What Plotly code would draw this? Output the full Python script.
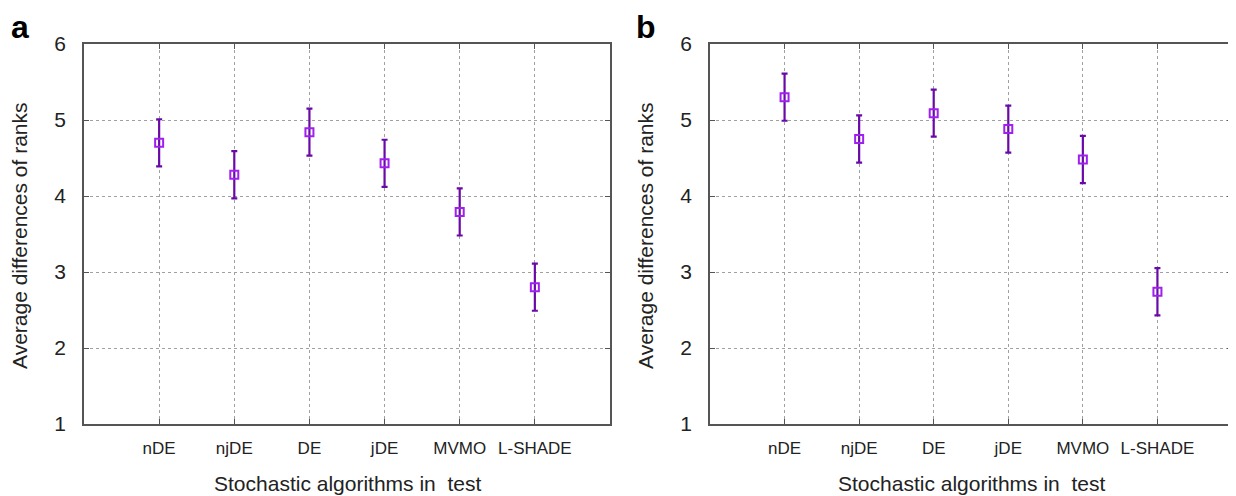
import plotly.graph_objects as go

categories = ["nDE", "njDE", "DE", "jDE", "MVMO", "L-SHADE"]
x_pos = [1, 2, 3, 4, 5, 6]
values_a = [4.70, 4.28, 4.84, 4.43, 3.79, 2.80]
err_a = [0.31, 0.31, 0.31, 0.31, 0.31, 0.31]
values_b = [5.30, 4.75, 5.09, 4.88, 4.48, 2.74]
err_b = [0.31, 0.31, 0.31, 0.31, 0.31, 0.31]
y_ticks = [1, 2, 3, 4, 5, 6]

LINE = "#6a0aa6"
MARK = "#a020f0"
FONT = "Liberation Sans, Arial, sans-serif"
TXT = "#222222"

W, H = 1236, 496
OFF = 8  # page body margin shifts the figure by this much
PT, PB = 44 - OFF, 424 - OFF
ML, MR, MT, MB = 72, 12, PT, H - PB
PW = W - ML - MR
PH = H - MT - MB

def xdom(a, b):
    return [(a - OFF - ML) / PW, (b - OFF - ML) / PW]

def px(x):
    return (x - OFF - ML) / PW

def py(y):
    return (H - MB - (y - OFF)) / PH

fig = go.Figure()
for vals, errs, xa, ya in [(values_a, err_a, "x", "y"), (values_b, err_b, "x2", "y2")]:
    fig.add_trace(go.Scatter(
        x=x_pos, y=vals, mode="markers", xaxis=xa, yaxis=ya,
        marker=dict(symbol="square-open", size=8, color=MARK, line=dict(width=2, color=MARK)),
        error_y=dict(type="data", array=errs, visible=True, color=LINE, thickness=2.2, width=3),
        showlegend=False, hoverinfo="skip", cliponaxis=False))

ax_common = dict(
    showgrid=True, gridcolor="#a0a0a0", griddash="dot", gridwidth=1,
    showline=True, linecolor="#555555", linewidth=1.5, mirror="allticks",
    ticks="inside", ticklen=5, tickcolor="#555555", zeroline=False, automargin=False,
)
xcommon = dict(ax_common, range=[0, 7], tickmode="array", tickvals=x_pos, ticktext=categories,
               tickfont=dict(family=FONT, size=17, color=TXT), ticklabelstandoff=8)
ycommon = dict(ax_common, range=[1, 6], tickmode="array", tickvals=y_ticks,
               tickfont=dict(family=FONT, size=21, color=TXT), ticklabelstandoff=12)

ann = []
for xc, yt_x, letter_x, letter in [((84 + 610) / 2, 19, 20, "a"), ((710 + 1232) / 2, 645, 646, "b")]:
    ann.append(dict(text="Average differences of ranks", x=px(yt_x), y=py(236),
                    xanchor="center", yanchor="middle", textangle=-90, showarrow=False,
                    borderpad=0, font=dict(family=FONT, size=21, color=TXT)))
    ann.append(dict(text="Stochastic algorithms in  test", x=px(xc), y=py(483),
                    xanchor="center", yanchor="middle", showarrow=False,
                    font=dict(family=FONT, size=21, color=TXT)))
    ann.append(dict(text="<b>" + letter + "</b>", x=px(letter_x), y=py(OFF),
                    xanchor="center", yanchor="top", showarrow=False,
                    borderpad=0, font=dict(family=FONT, size=32, color="black")))

fig.update_layout(
    width=W, height=H,
    margin=dict(l=ML, r=MR, t=MT, b=MB, autoexpand=False),
    paper_bgcolor="white", plot_bgcolor="white",
    xaxis=dict(xcommon, domain=xdom(84, 610), anchor="y"),
    yaxis=dict(ycommon, domain=[0, 1], anchor="x"),
    xaxis2=dict(xcommon, domain=xdom(710, 1232), anchor="y2"),
    yaxis2=dict(ycommon, domain=[0, 1], anchor="x2"),
    annotations=[dict(a, xref="paper", yref="paper") for a in ann],
)

fig.write_html("out.html")
